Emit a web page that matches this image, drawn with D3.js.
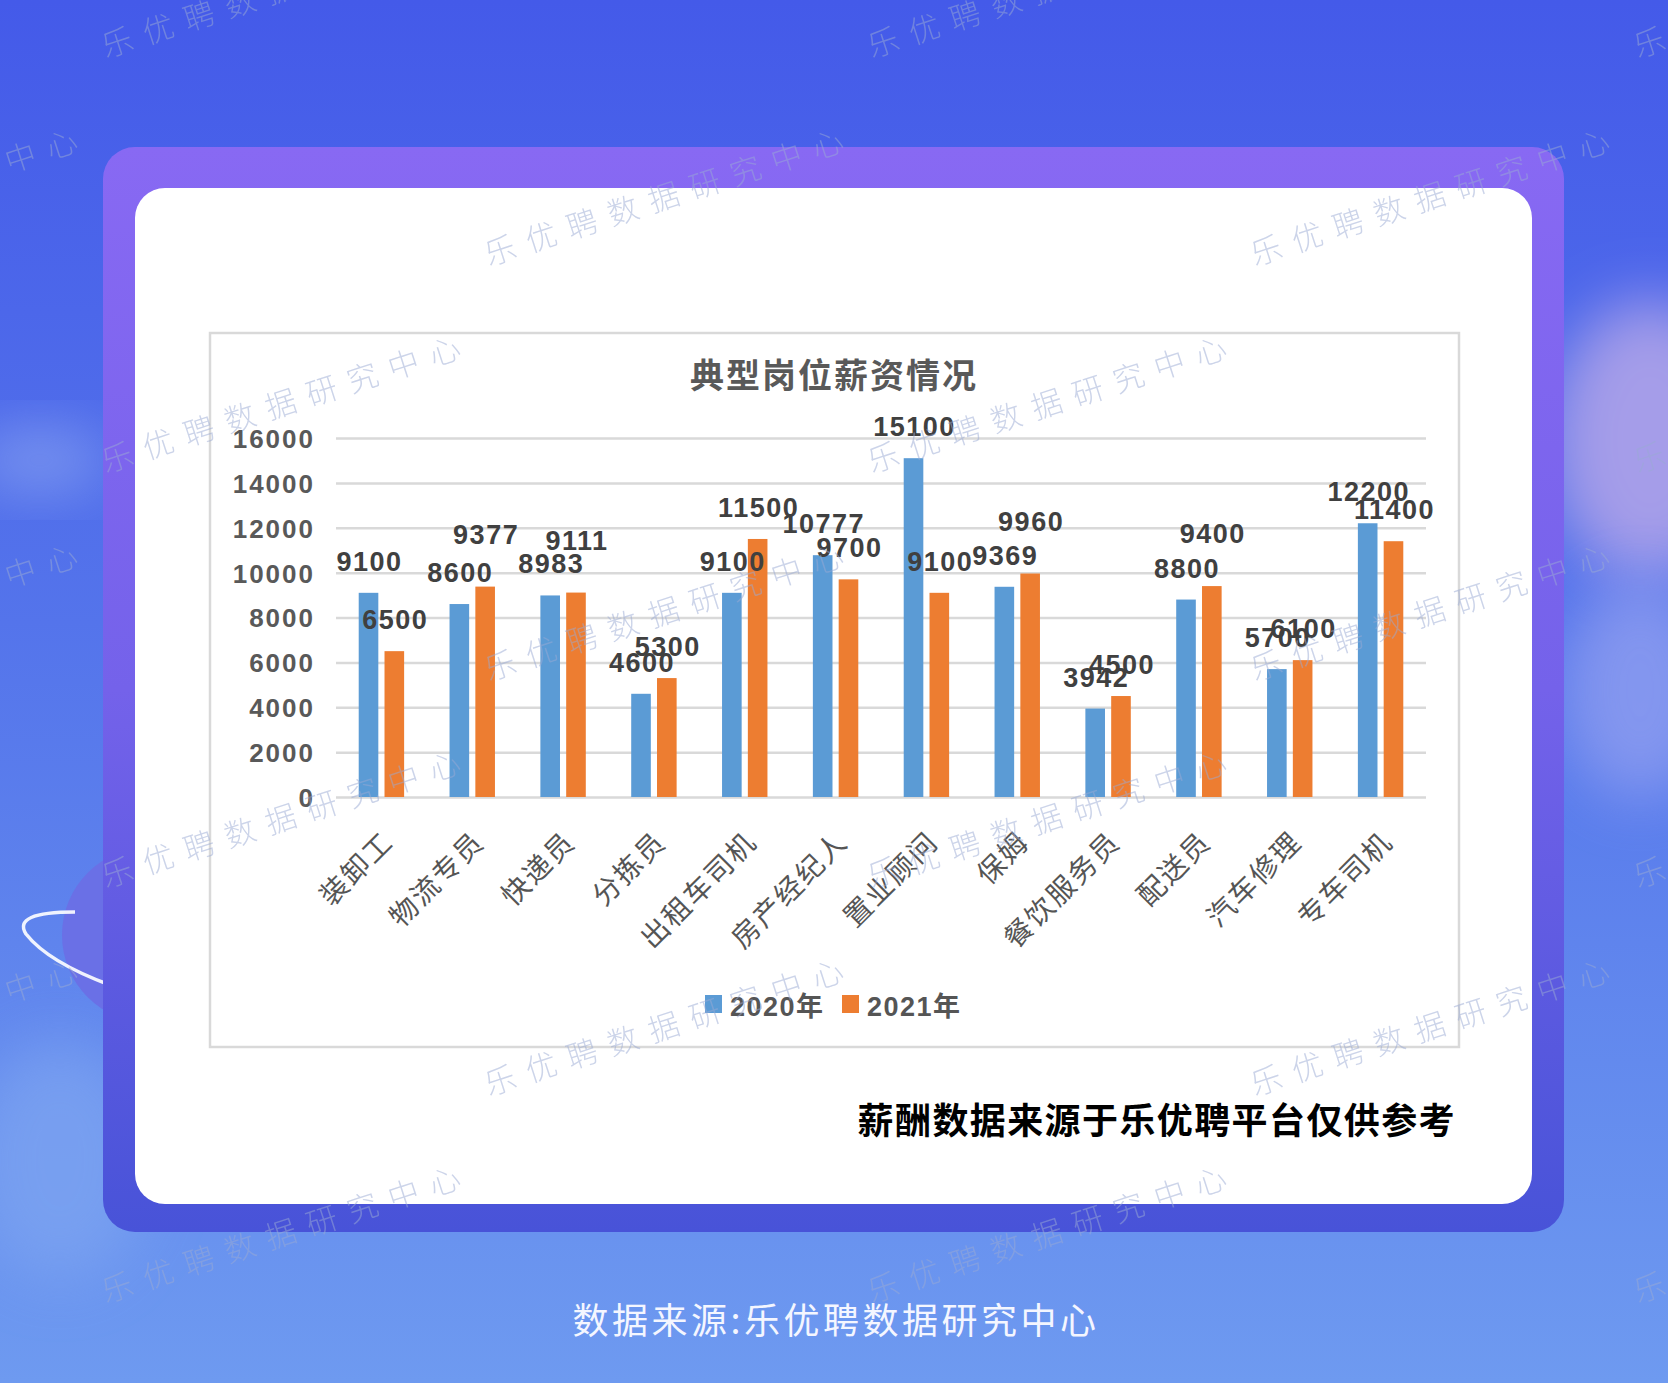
<!DOCTYPE html>
<html>
<head>
<meta charset="utf-8">
<script src="https://cdn.jsdelivr.net/npm/d3@7"></script>
<style>
  html, body { margin: 0; padding: 0; background: #4a62ea; }
  svg { display: block; }
</style>
</head>
<body>
<div id="chart"></div>
<script>
// ---------- data ----------
const title = "典型岗位薪资情况";
const categories = ["装卸工", "物流专员", "快递员", "分拣员", "出租车司机", "房产经纪人", "置业顾问", "保姆", "餐饮服务员", "配送员", "汽车修理", "专车司机"];
const seriesNames = ["2020年", "2021年"];
const values2020 = [9100, 8600, 8983, 4600, 9100, 10777, 15100, 9369, 3942, 8800, 5700, 12200];
const values2021 = [6500, 9377, 9111, 5300, 11500, 9700, 9100, 9960, 4500, 9400, 6100, 11400];
const yTicks = [0, 2000, 4000, 6000, 8000, 10000, 12000, 14000, 16000];
const noteText = "薪酬数据来源于乐优聘平台仅供参考";
const footerText = "数据来源:乐优聘数据研究中心";
const watermarkText = "乐优聘数据研究中心";

// ---------- layout ----------
const W = 1668, H = 1383;
const plot = { left: 336, right: 1426, top: 438, bottom: 797 };
const colors = ["#5b9bd5", "#ed7d31"];
const latin = "'Liberation Sans', Arial, 'Noto Sans CJK SC', sans-serif";
const cjk = "'Noto Sans CJK SC', 'Noto Sans CJK TC', sans-serif";

const svg = d3.select("#chart").append("svg").attr("width", W).attr("height", H);
const defs = svg.append("defs");

const bg = defs.append("linearGradient").attr("id", "bg").attr("x1", 0).attr("y1", 0).attr("x2", 0).attr("y2", 1);
bg.append("stop").attr("offset", "0%").attr("stop-color", "#445ae9");
bg.append("stop").attr("offset", "45%").attr("stop-color", "#5474eb");
bg.append("stop").attr("offset", "100%").attr("stop-color", "#6e9af0");

const card = defs.append("linearGradient").attr("id", "card").attr("x1", 0).attr("y1", 0).attr("x2", 0).attr("y2", 1);
card.append("stop").attr("offset", "0%").attr("stop-color", "#8869f3");
card.append("stop").attr("offset", "50%").attr("stop-color", "#7462ea");
card.append("stop").attr("offset", "100%").attr("stop-color", "#4853d8");

const blur = defs.append("filter").attr("id", "blur").attr("x", "-50%").attr("y", "-50%").attr("width", "200%").attr("height", "200%");
blur.append("feGaussianBlur").attr("stdDeviation", 30);

// background
svg.append("rect").attr("width", W).attr("height", H).attr("fill", "url(#bg)");
// soft clouds
svg.append("ellipse").attr("cx", 1650).attr("cy", 440).attr("rx", 100).attr("ry", 140)
  .attr("fill", "#a59de9").attr("filter", "url(#blur)");
svg.append("ellipse").attr("cx", 1640).attr("cy", 690).attr("rx", 80).attr("ry", 110)
  .attr("fill", "#8f9ef0").attr("opacity", 0.8).attr("filter", "url(#blur)");
svg.append("ellipse").attr("cx", 40).attr("cy", 460).attr("rx", 70).attr("ry", 30)
  .attr("fill", "#8fa8f2").attr("opacity", 0.7).attr("filter", "url(#blur)");
svg.append("ellipse").attr("cx", 60).attr("cy", 1160).attr("rx", 90).attr("ry", 120)
  .attr("fill", "#7fa6f1").attr("opacity", 0.7).attr("filter", "url(#blur)");

// planet decoration
svg.append("circle").attr("cx", 150).attr("cy", 935).attr("r", 88).attr("fill", "#6a70e6");
svg.append("path").attr("d", "M 75 912 Q 12 912 26 934 Q 48 962 110 985")
  .attr("fill", "none").attr("stroke", "#ffffff").attr("stroke-width", 3.5).attr("opacity", 0.9);

// cards
svg.append("rect").attr("x", 103).attr("y", 147).attr("width", 1461).attr("height", 1085)
  .attr("rx", 32).attr("fill", "url(#card)");
svg.append("rect").attr("x", 135).attr("y", 188).attr("width", 1397).attr("height", 1016)
  .attr("rx", 30).attr("fill", "#ffffff");

// chart frame
svg.append("rect").attr("x", 210).attr("y", 333).attr("width", 1249).attr("height", 714)
  .attr("fill", "#ffffff").attr("stroke", "#d9d9d9").attr("stroke-width", 2.5);

// title
svg.append("text").attr("x", 834).attr("y", 388).attr("text-anchor", "middle")
  .attr("font-family", cjk).attr("font-weight", 700).attr("font-size", 34)
  .attr("letter-spacing", 2).attr("fill", "#595959").text(title);

// scales
const x0 = d3.scaleBand().domain(categories).range([plot.left, plot.right]).paddingInner(0.5).paddingOuter(0.25);
const x1 = d3.scaleBand().domain(seriesNames).range([0, x0.bandwidth()]).paddingInner(0.24).paddingOuter(0);
const y = d3.scaleLinear().domain([0, 16000]).range([plot.bottom, plot.top]);

// gridlines + y labels
const yAxis = svg.append("g").attr("transform", `translate(${plot.left},0)`)
  .call(d3.axisLeft(y).tickValues(yTicks).tickSize(-(plot.right - plot.left)).tickPadding(21).tickFormat(d3.format("d")));
yAxis.select(".domain").remove();
yAxis.selectAll(".tick line").attr("stroke", "#d9d9d9").attr("stroke-width", 2.5);
yAxis.selectAll(".tick text").attr("font-family", latin).attr("font-weight", 700)
  .attr("font-size", 26).attr("letter-spacing", 2).attr("fill", "#595959").attr("dy", "0.36em");

// bars
const rows = categories.map((c, i) => ({ cat: c, vals: [values2020[i], values2021[i]] }));
const groups = svg.append("g").selectAll("g").data(rows).join("g")
  .attr("transform", d => `translate(${x0(d.cat)},0)`);
groups.selectAll("rect").data(d => d.vals.map((v, k) => ({ v, k }))).join("rect")
  .attr("x", d => x1(seriesNames[d.k]))
  .attr("y", d => y(d.v))
  .attr("width", x1.bandwidth())
  .attr("height", d => y(0) - y(d.v))
  .attr("fill", d => colors[d.k]);

// x axis labels
const xAxis = svg.append("g").attr("transform", `translate(0,${plot.bottom})`)
  .call(d3.axisBottom(x0).tickSize(0));
xAxis.select(".domain").remove();
xAxis.selectAll(".tick text")
  .attr("x", 0).attr("y", 0).attr("dy", "0.85em")
  .attr("text-anchor", "end")
  .attr("transform", "translate(-3,30) rotate(-45)")
  .attr("font-family", cjk).attr("font-size", 28).attr("letter-spacing", 2)
  .attr("fill", "#555555");

// data labels (orange label nudged up when it would sit on top of the blue one)
function labelY(d, vals) {
  const base = y(d.v) - 22;
  if (d.k === 1) {
    const gap = y(vals[0]) - y(vals[1]);
    if (gap > 0 && gap < 18 && vals[1] >= 9000) return base - 21;
  }
  return base;
}
groups.each(function (row) {
  d3.select(this).selectAll("text").data(row.vals.map((v, k) => ({ v, k }))).join("text")
    .attr("x", d => x1(seriesNames[d.k]) + x1.bandwidth() / 2 + 1)
    .attr("y", d => labelY(d, row.vals))
    .attr("text-anchor", "middle")
    .attr("font-family", latin).attr("font-weight", 700).attr("font-size", 27)
    .attr("letter-spacing", 1.5).attr("fill", "#404040")
    .text(d => d.v);
});

// legend
const legend = svg.append("g").attr("transform", "translate(705,1004)");
const li = legend.selectAll("g").data(seriesNames).join("g")
  .attr("transform", (d, i) => `translate(${i * 137},0)`);
li.append("rect").attr("x", 0).attr("y", -9).attr("width", 17).attr("height", 18)
  .attr("fill", (d, i) => colors[i]);
li.append("text").attr("x", 25).attr("y", 12)
  .attr("font-family", latin).attr("font-weight", 700).attr("font-size", 27)
  .attr("letter-spacing", 1.5).attr("fill", "#555555").text(d => d);

// note
svg.append("text").attr("x", 1456).attr("y", 1134).attr("text-anchor", "end")
  .attr("font-family", cjk).attr("font-weight", 700).attr("font-size", 36)
  .attr("letter-spacing", 1.4).attr("fill", "#000000").text(noteText);

// footer
svg.append("text").attr("x", 836).attr("y", 1334).attr("text-anchor", "middle")
  .attr("font-family", cjk).attr("font-weight", 400).attr("font-size", 36)
  .attr("letter-spacing", 3.5).attr("fill", "#f4f6ff").text(footerText);

// watermarks
const wm = svg.append("g").attr("pointer-events", "none");
const wmRows = [58, 266, 473, 681, 888, 1096, 1303];
wmRows.forEach((yy, r) => {
  const start = (r % 2 === 0 ? 106 : 489) - 766 * 2;
  for (let xx = start; xx < W + 100; xx += 766) {
    wm.append("text")
      .attr("transform", `translate(${xx},${yy}) rotate(-18)`)
      .attr("font-family", cjk).attr("font-weight", 300).attr("font-size", 31)
      .attr("letter-spacing", 12).attr("fill", "#9aaad4").attr("opacity", 0.5)
      .text(watermarkText);
  }
});
</script>
</body>
</html>
